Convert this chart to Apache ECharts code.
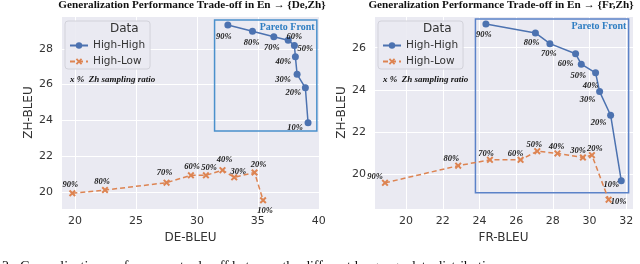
<!DOCTYPE html>
<html>
<head>
<meta charset="utf-8">
<script src="https://cdn.jsdelivr.net/npm/echarts@6/dist/echarts.min.js"></script>
<style>html,body{margin:0;padding:0;background:#fff;}#c{width:640px;height:264px;}</style>
</head>
<body>
<div id="c"></div>
<script>
// ---- data ----
const ratioLabels = ['90%','80%','70%','60%','50%','40%','30%','20%','10%'];
const hhDeZhX = [32.54, 34.56, 36.31, 37.49, 38.00, 38.08, 38.22, 38.90, 39.12];
const hhDeZhY = [29.33, 28.98, 28.67, 28.48, 28.18, 27.56, 26.57, 25.82, 23.87];
const hlDeZhX = [19.78, 22.46, 27.51, 29.51, 30.74, 32.10, 33.06, 34.73, 35.43];
const hlDeZhY = [19.93, 20.11, 20.52, 20.93, 20.93, 21.22, 20.82, 21.09, 19.54];
const hhFrZhX = [24.35, 27.05, 27.84, 29.24, 29.55, 30.33, 30.55, 31.15, 31.73];
const hhFrZhY = [27.12, 26.70, 26.19, 25.71, 25.22, 24.81, 23.92, 22.80, 19.70];
const hlFrZhX = [18.85, 22.84, 24.57, 26.24, 27.15, 28.25, 29.64, 30.13, 31.04];
const hlFrZhY = [19.60, 20.41, 20.69, 20.69, 21.10, 20.99, 20.80, 20.91, 18.80];
const seriesNames = ['High-High', 'High-Low'];
const titles = ['Generalization Performance Trade-off in En \u2192 {De,Zh}', 'Generalization Performance Trade-off in En \u2192 {Fr,Zh}'];
const xNames = ['DE-BLEU', 'FR-BLEU'];
const yName = 'ZH-BLEU';
// Pareto front boxes (data coords: [xmin, ymin], [xmax, ymax])
const paretoDeZh = [[31.45, 23.40], [39.84, 29.61]];
const paretoFrZh = [[23.78, 19.13], [32.13, 27.36]];
const axisRanges = { deX: [18.85, 40.1], deY: [19.05, 29.83], frX: [18.25, 32.37], frY: [18.36, 27.5] };

// ---- label placement (px offsets, styling only) ----
const offHhDe = [[-4,12],[-1,12],[-2,11],[6,-3],[11,3],[-12,5],[-14,5],[-12,5],[-13,5]];
const offHlDe = [[-2,-8],[-3,-8],[-2,-10],[1,-9],[3,-8],[2,-10],[4,-6],[4,-8],[2,11]];
const offHhFr = [[-2,11],[-4,10],[-1,10],[-10,10],[-3,12],[-5,13],[-12,8],[-12,8],[-10,4]];
const offHlFr = [[-10,-6],[-7,-7],[-4,-6],[-5,-6],[-3,-6],[-1,-7],[-5,-7],[3,-6],[10,2]];

const BLUE = '#4C72B0', ORANGE = '#DD8452';
const X_PATH = 'path://M0,2 L2,0 L5,3 L8,0 L10,2 L7,5 L10,8 L8,10 L5,7 L2,10 L0,8 L3,5 Z';

function pts(xs, ys, offs) {
  return xs.map((x, i) => ({
    value: [x, ys[i]],
    label: { offset: offs[i], formatter: ratioLabels[i] }
  }));
}
const ptLabel = {
  show: true, position: 'inside', color: '#1a1a1a',
  fontFamily: 'Liberation Serif', fontStyle: 'italic', fontWeight: 'bold', fontSize: 8.5
};
function box(b, color) {
  return {
    silent: true,
    itemStyle: { color: 'rgba(0,0,0,0)', borderColor: color, borderWidth: 1.5 },
    label: { show: true, position: 'insideTopRight', distance: 3, formatter: 'Pareto Front',
      color: '#2F7EC2', fontFamily: 'Liberation Serif', fontWeight: 'bold', fontSize: 10 },
    data: [[{ coord: b[0] }, { coord: b[1] }]]
  };
}
function hhSeries(xs, ys, offs, idx, b, bc) {
  return {
    name: seriesNames[0], type: 'line', xAxisIndex: idx, yAxisIndex: idx,
    data: pts(xs, ys, offs), symbol: 'circle', symbolSize: 7, showSymbol: true,
    lineStyle: { color: BLUE, width: 1.5 }, itemStyle: { color: BLUE },
    label: ptLabel, z: 3, markArea: box(b, bc)
  };
}
function hlSeries(xs, ys, offs, idx) {
  return {
    name: seriesNames[1], type: 'line', xAxisIndex: idx, yAxisIndex: idx,
    data: pts(xs, ys, offs), symbol: X_PATH, symbolSize: 7, showSymbol: true,
    lineStyle: { color: ORANGE, width: 1.5, type: [5, 3] }, itemStyle: { color: ORANGE },
    label: ptLabel, z: 2
  };
}
const tickFont = { color: '#333', fontSize: 11, fontFamily: 'DejaVu Sans' };
function xAx(idx, r, name) {
  return {
    type: 'value', gridIndex: idx, min: r[0], max: r[1], splitNumber: idx === 0 ? 5 : 7,
    name: name, nameLocation: 'middle', nameGap: 17,
    nameTextStyle: { color: '#333', fontSize: 12, fontFamily: 'DejaVu Sans' },
    axisLine: { show: false }, axisTick: { show: false },
    axisLabel: Object.assign({ margin: 7, showMinLabel: false, showMaxLabel: false }, tickFont),
    splitLine: { show: true, lineStyle: { color: '#fff', width: 1 } }
  };
}
function yAx(idx, r) {
  return {
    type: 'value', gridIndex: idx, min: r[0], max: r[1], splitNumber: 5,
    name: yName, nameLocation: 'middle', nameGap: 21,
    nameTextStyle: { color: '#333', fontSize: 12, fontFamily: 'DejaVu Sans' },
    axisLine: { show: false }, axisTick: { show: false },
    axisLabel: Object.assign({ margin: 8, showMinLabel: false, showMaxLabel: false }, tickFont),
    splitLine: { show: true, lineStyle: { color: '#fff', width: 1 } }
  };
}
function legend(left) {
  return {
    data: seriesNames, orient: 'vertical', left: left, top: 21,
    padding: [19, 5, 2, 4], itemGap: 5, itemWidth: 18, itemHeight: 8, itemTextGap: 12,
    backgroundColor: 'rgba(234,234,242,0.9)', borderColor: '#D2D2DA', borderWidth: 1, borderRadius: 3,
    textStyle: { color: '#333', fontSize: 10.5, fontFamily: 'DejaVu Sans' }
  };
}
const titleStyle = { color: '#111', fontSize: 11.2, fontWeight: 'bold', fontFamily: 'Liberation Serif' };
const noteStyle = { fill: '#111', font: 'italic bold 9px "Liberation Serif"', text: 'x %  Zh sampling ratio' };

const chart = echarts.init(document.getElementById('c'), null, { renderer: 'canvas' });
chart.setOption({
  animation: false,
  backgroundColor: '#fff',
  title: [
    { text: titles[0], left: 192, textAlign: 'center', top: 0, padding: 0, textStyle: titleStyle },
    { text: titles[1], left: 501, textAlign: 'center', top: 0, padding: 0, textStyle: titleStyle }
  ],
  grid: [
    { left: 61, top: 16, width: 259, height: 193, show: true, backgroundColor: '#EAEAF2', borderWidth: 0 },
    { left: 374, top: 16, width: 259, height: 193, show: true, backgroundColor: '#EAEAF2', borderWidth: 0 }
  ],
  xAxis: [xAx(0, axisRanges.deX, xNames[0]), xAx(1, axisRanges.frX, xNames[1])],
  yAxis: [yAx(0, axisRanges.deY), yAx(1, axisRanges.frY)],
  legend: [legend(65), legend(378)],
  graphic: [
    { type: 'text', left: 110, top: 23, style: { text: 'Data', fill: '#333', font: '12px "DejaVu Sans"', textAlign: 'center' }, z: 100 },
    { type: 'text', left: 423, top: 23, style: { text: 'Data', fill: '#333', font: '12px "DejaVu Sans"', textAlign: 'center' }, z: 100 },
    { type: 'text', left: 70, top: 75, style: noteStyle, z: 100 },
    { type: 'text', left: 383, top: 75, style: noteStyle, z: 100 },
    { type: 'text', left: 2, top: 260, style: { text: '2:  Generalization performance trade-off between the different language data distributions', fill: '#111', font: '14px "Liberation Serif"' } }
  ],
  series: [
    hhSeries(hhDeZhX, hhDeZhY, offHhDe, 0, paretoDeZh, '#4A90CC'),
    hlSeries(hlDeZhX, hlDeZhY, offHlDe, 0),
    hhSeries(hhFrZhX, hhFrZhY, offHhFr, 1, paretoFrZh, '#5B82C8'),
    hlSeries(hlFrZhX, hlFrZhY, offHlFr, 1)
  ]
});
</script>
</body>
</html>
